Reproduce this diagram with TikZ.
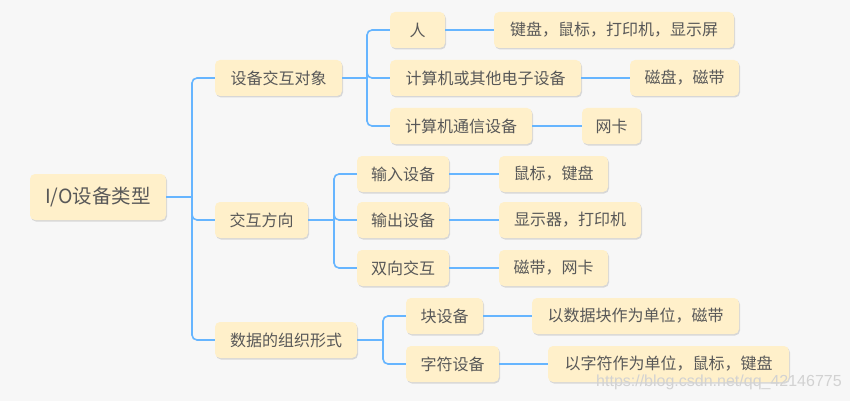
\documentclass[tikz,border=0pt]{standalone}
\usepackage{fontspec}
\setmainfont{Noto Sans CJK SC}
\newfontfamily\wmfont{Liberation Sans}
\usetikzlibrary{shadows}
\definecolor{bg}{HTML}{F7F7F7}
\definecolor{boxfill}{HTML}{FFF0CA}
\definecolor{txt}{HTML}{585858}
\definecolor{line}{HTML}{66B5FF}
\definecolor{wm}{HTML}{D2D2D2}
\tikzset{
  box/.style={draw=none, fill=boxfill, rounded corners=5pt, inner sep=0pt,
    minimum height=36pt, text=txt, font=\fontsize{16pt}{18pt}\selectfont,
    drop shadow={shadow xshift=1pt, shadow yshift=-1.5pt, fill=black, opacity=0.13}},
  rootbox/.style={box, minimum height=46pt, font=\fontsize{19.5pt}{22pt}\selectfont},
  conn/.style={draw=line, line width=1.6pt, rounded corners=5pt}
}
\begin{document}
\begin{tikzpicture}[x=1pt,y=-1pt]
\fill[bg] (0,0) rectangle (850,401);
\useasboundingbox (0,0) rectangle (850,401);
% nodes
\node[rootbox, minimum width=136pt] (root) at (98,197) {I/O设备类型};
\node[box, minimum width=127pt] (A) at (278.5,78) {设备交互对象};
\node[box, minimum width=93pt] (B) at (261.5,220) {交互方向};
\node[box, minimum width=142pt] (C) at (286,340) {数据的组织形式};
\node[box, minimum width=55pt] (A1) at (417.5,30) {人};
\node[box, minimum width=191pt] (A2) at (485.5,78) {计算机或其他电子设备};
\node[box, minimum width=142pt] (A3) at (461,126) {计算机通信设备};
\node[box, minimum width=240pt] (A1a) at (614,30) {键盘，鼠标，打印机，显示屏};
\node[box, minimum width=109pt] (A2a) at (684.5,78) {磁盘，磁带};
\node[box, minimum width=59pt] (A3a) at (611.5,126) {网卡};
\node[box, minimum width=92pt] (B1) at (403,174) {输入设备};
\node[box, minimum width=92pt] (B2) at (403,220) {输出设备};
\node[box, minimum width=92pt] (B3) at (403,268) {双向交互};
\node[box, minimum width=109pt] (B1a) at (553.5,174) {鼠标，键盘};
\node[box, minimum width=142pt] (B2a) at (570,220) {显示器，打印机};
\node[box, minimum width=109pt] (B3a) at (553.5,268) {磁带，网卡};
\node[box, minimum width=77pt] (C1) at (444.5,316) {块设备};
\node[box, minimum width=93pt] (C2) at (452.5,364) {字符设备};
\node[box, minimum width=207pt] (C1a) at (635.5,316) {以数据块作为单位，磁带};
\node[box, minimum width=241pt] (C2a) at (668.5,364) {以字符作为单位，鼠标，键盘};
% junctions
\coordinate (j0) at (192,197);
\coordinate (jA) at (367,78);
\coordinate (jB) at (334,220);
\coordinate (jC) at (383,340);
% connectors
\draw[conn] (root.east) -- (j0);
\draw[conn] (j0) |- (A.west);
\draw[conn] (j0) |- (B.west);
\draw[conn] (j0) |- (C.west);
\draw[conn] (A.east) -- (jA);
\draw[conn] (jA) |- (A1.west);
\draw[conn] (jA) |- (A2.west);
\draw[conn] (jA) |- (A3.west);
\draw[conn] (B.east) -- (jB);
\draw[conn] (jB) |- (B1.west);
\draw[conn] (jB) |- (B2.west);
\draw[conn] (jB) |- (B3.west);
\draw[conn] (C.east) -- (jC);
\draw[conn] (jC) |- (C1.west);
\draw[conn] (jC) |- (C2.west);
\draw[conn] (A1.east) -- (A1a.west);
\draw[conn] (A2.east) -- (A2a.west);
\draw[conn] (A3.east) -- (A3a.west);
\draw[conn] (B1.east) -- (B1a.west);
\draw[conn] (B2.east) -- (B2a.west);
\draw[conn] (B3.east) -- (B3a.west);
\draw[conn] (C1.east) -- (C1a.west);
\draw[conn] (C2.east) -- (C2a.west);
\node[anchor=west, inner sep=0pt, text=wm, font=\wmfont\fontsize{16pt}{18pt}\selectfont] (wmark) at (596,382) {https://blog.csdn.net/qq\_42146775};
\end{tikzpicture}
\end{document}
